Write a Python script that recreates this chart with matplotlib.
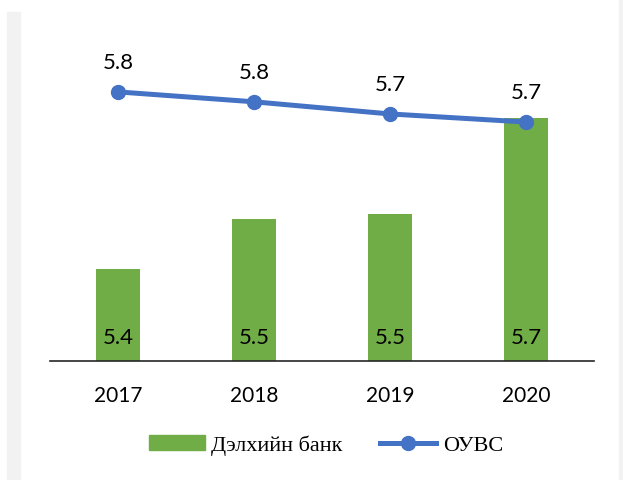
import matplotlib.pyplot as plt
from matplotlib.patches import Rectangle
from matplotlib.lines import Line2D

years = ['2017', '2018', '2019', '2020']
world_bank = [5.404, 5.516, 5.527, 5.74]
imf = [5.798, 5.776, 5.749, 5.731]

green = '#70AD47'
blue = '#4472C4'

fig = plt.figure(figsize=(6.23, 4.81), dpi=100)
W, H = 623, 481

# light gray strips on the sides
fig.patches.append(Rectangle((7 / W, 0), 13 / W, (H - 13) / H, transform=fig.transFigure,
                             color='#F2F2F2', zorder=0))
fig.patches.append(Rectangle((619 / W, 0), 4 / W, 1, transform=fig.transFigure,
                             color='#F2F2F2', zorder=0))

ax = fig.add_axes([50 / W, 119 / H, 544 / W, 332 / H])
ax.set_facecolor('none')
x = list(range(len(years)))

ax.bar(x, [v - 5.2 for v in world_bank], bottom=5.2, width=0.32, color=green, zorder=2)
ax.plot(x, imf, color=blue, linewidth=3.6, marker='o', markersize=10, zorder=3)

ax.set_xlim(-0.5, 3.5)
ax.set_ylim(5.2, 5.2 + 332 / 450)

for i in x:
    ax.text(i, 5.2 + 18 / 450, f'{world_bank[i]:.1f}', ha='center', va='baseline',
            fontsize=16, family='Lato', zorder=4)
    ax.annotate(f'{imf[i]:.1f}', (i, imf[i]), xytext=(0, 17), textcoords='offset points',
                ha='center', va='baseline', fontsize=16, family='Lato')

for s in ['top', 'right', 'left']:
    ax.spines[s].set_visible(False)
ax.spines['bottom'].set_color('#262626')
ax.spines['bottom'].set_linewidth(1.2)
ax.set_yticks([])
ax.set_xticks(x)
ax.set_xticklabels(years, fontsize=15, family='Lato')
ax.tick_params(axis='x', length=0, pad=17)

handles = [Rectangle((0, 0), 1, 1, color=green),
           Line2D([], [], color=blue, linewidth=3.6, marker='o', markersize=10)]
fig.legend(handles, ['Дэлхийн банк', 'ОУВС'], loc='center', bbox_to_anchor=(326 / W, 1 - 446 / H),
           ncol=2, frameon=False, prop={'family': 'Liberation Serif', 'size': 16},
           handlelength=2.5, handleheight=0.63, columnspacing=1.7, handletextpad=0.3)

plt.savefig('out.png', dpi=100)
